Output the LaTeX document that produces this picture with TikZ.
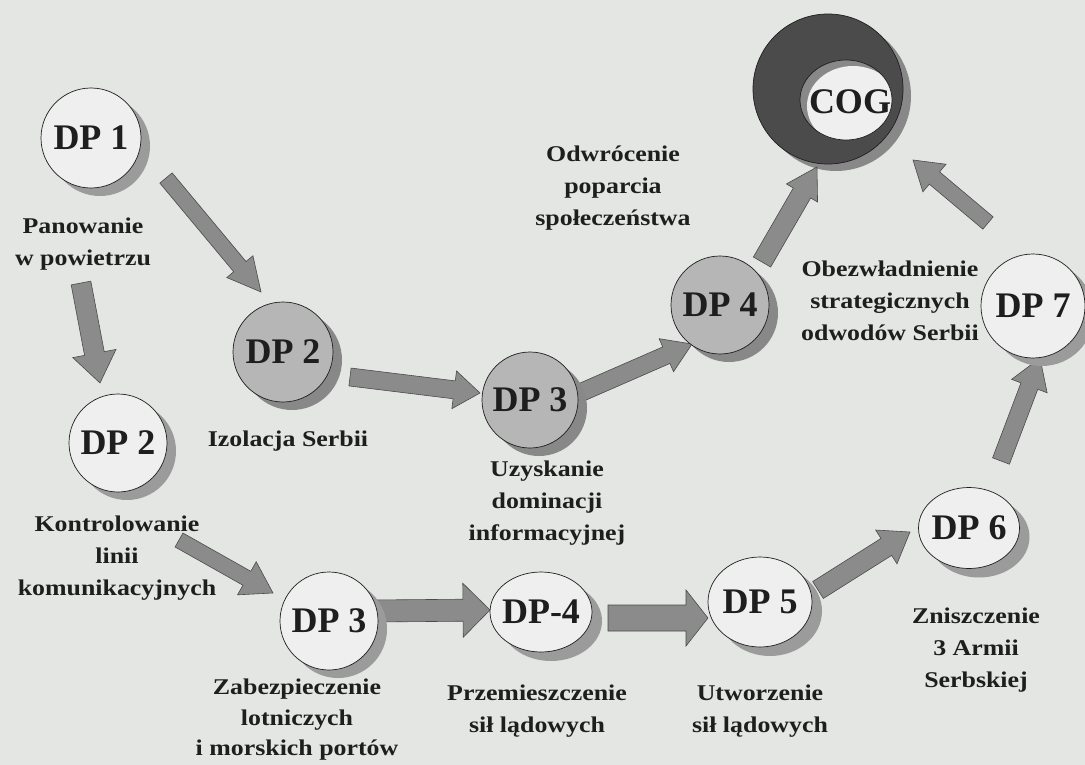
\documentclass[tikz,border=0pt]{standalone}
\usepackage{fontspec}
\setmainfont{Liberation Serif}
\newfontfamily\lblfont{Liberation Serif}[FakeStretch=1.15]
\usetikzlibrary{calc,shapes.geometric,shadows}

\definecolor{paper}{HTML}{E3E6E3}
\definecolor{diskfill}{HTML}{EEEFEE}
\definecolor{diskgray}{HTML}{B5B6B5}
\definecolor{shadowlt}{HTML}{9A9B9A}
\definecolor{shadowdk}{HTML}{878887}
\definecolor{ringdark}{HTML}{4B4B4B}
\definecolor{arrowgray}{HTML}{8A8B8A}
\definecolor{ink}{HTML}{1E1E1E}

% block arrow: tail, tip, half shaft width, half head width, head length
\newcommand{\blockarrow}[5]{%
  \coordinate (bah) at ($(#2)!#5!(#1)$);
  \filldraw[arrowbody]
    ($(#1)!#3!90:(#2)$) -- ($(bah)!#3!90:(#2)$) -- ($(bah)!#4!90:(#2)$)
    -- (#2)
    -- ($(bah)!#4!-90:(#2)$) -- ($(bah)!#3!-90:(#2)$) -- ($(#1)!#3!-90:(#2)$)
    -- cycle;
}

\tikzset{
  arrowbody/.style={fill=arrowgray, draw=ink!80, line width=0.6pt, line join=miter},
  lightdisk/.style={circle, draw=ink, line width=0.7pt, fill=diskfill, inner sep=0pt,
    minimum size=#1,
    drop shadow={shadow xshift=9pt, shadow yshift=-8pt, fill=shadowlt, opacity=1}},
  graydisk/.style={circle, draw=ink, line width=0.7pt, fill=diskgray, inner sep=0pt,
    minimum size=#1,
    drop shadow={shadow xshift=9pt, shadow yshift=-8pt, fill=shadowdk, opacity=1}},
  lightoval/.style 2 args={ellipse, draw=ink, line width=0.7pt, fill=diskfill, inner sep=0pt,
    minimum width=#1, minimum height=#2,
    drop shadow={shadow xshift=10pt, shadow yshift=-9pt, fill=shadowlt, opacity=1}},
  dptxt/.style={font=\fontsize{36}{40}\selectfont\bfseries, text=ink, inner sep=0pt},
  lbl/.style={font=\lblfont\fontsize{22.5}{32}\selectfont\bfseries, text=ink,
    inner sep=0pt, align=center, anchor=north},
}

\begin{document}
\begin{tikzpicture}[x=1pt,y=-1pt]
\useasboundingbox (0,0) rectangle (1085,765);
\fill[paper] (0,0) rectangle (1085,765);

% centre of gravity: dark ring with an offset hole
\node[circle, fill=ringdark, draw=ink, line width=0.7pt, minimum size=150, inner sep=0pt,
  drop shadow={shadow xshift=8pt, shadow yshift=-7pt, fill=shadowdk, opacity=1}]
  (cog) at (828,89) {};
\begin{scope}
  \clip (846,100) ellipse [x radius=46, y radius=40];
  \fill[shadowdk] (846,100) ellipse [x radius=46, y radius=40];
  \fill[diskfill] (853,106) ellipse [x radius=46, y radius=40];
\end{scope}
\draw[ink, line width=0.7pt] (846,100) ellipse [x radius=46, y radius=40];
\node[dptxt] (cogt) at (850,102) {COG};

% arrow end points
\coordinate (a1s) at (166,178);  \coordinate (a1e) at (261,292);
\coordinate (a2s) at (81,283);   \coordinate (a2e) at (100,383);
\coordinate (a3s) at (179,540);  \coordinate (a3e) at (273,593);
\coordinate (a4s) at (350,377);  \coordinate (a4e) at (480,393);
\coordinate (a5s) at (582,392);  \coordinate (a5e) at (692,344);
\coordinate (a6s) at (372,611);  \coordinate (a6e) at (490,610);
\coordinate (a7s) at (608,618);  \coordinate (a7e) at (708,618);
\coordinate (a8s) at (818,590);  \coordinate (a8e) at (910,532);
\coordinate (a9s) at (1001,461); \coordinate (a9e) at (1040,358);
\coordinate (a10s) at (762,262); \coordinate (a10e) at (817,167);
\coordinate (a11s) at (988,223); \coordinate (a11e) at (913,160);

\blockarrow{a1s}{a1e}{8pt}{17pt}{33pt}
\blockarrow{a2s}{a2e}{10pt}{22pt}{30pt}
\blockarrow{a3s}{a3e}{8pt}{19pt}{30pt}
\blockarrow{a4s}{a4e}{9pt}{19pt}{26pt}
\blockarrow{a5s}{a5e}{9pt}{18pt}{28pt}
\blockarrow{a6s}{a6e}{11pt}{27pt}{27pt}
\blockarrow{a7s}{a7e}{13pt}{28pt}{22pt}
\blockarrow{a8s}{a8e}{10pt}{20pt}{28pt}
\blockarrow{a9s}{a9e}{9pt}{19pt}{30pt}
\blockarrow{a10s}{a10e}{10pt}{18pt}{30pt}
\blockarrow{a11s}{a11e}{8pt}{18pt}{28pt}

% decisive points
\node[lightdisk=100] (dp1)  at (91,138)  {};
\node[lightdisk=98]  (dp2a) at (118,443) {};
\node[graydisk=100]  (dp2b) at (283,352) {};
\node[lightdisk=98]  (dp3a) at (329,621) {};
\node[graydisk=96]   (dp3b) at (530,400) {};
\node[graydisk=98]   (dp4a) at (720,305) {};
\node[lightoval={102}{80}] (dp4b) at (541,612) {};
\node[lightoval={104}{90}] (dp5)  at (760,602) {};
\node[lightoval={101}{81}] (dp6)  at (969,528) {};
\node[lightdisk=104] (dp7)  at (1033,306) {};

\node[dptxt] (dp1t)  at (dp1)  {DP 1};
\node[dptxt] (dp2at) at (dp2a) {DP 2};
\node[dptxt] (dp2bt) at (dp2b) {DP 2};
\node[dptxt] (dp3at) at (dp3a) {DP 3};
\node[dptxt] (dp3bt) at (dp3b) {DP 3};
\node[dptxt] (dp4at) at (dp4a) {DP 4};
\node[dptxt] (dp4bt) at (dp4b) {DP-4};
\node[dptxt] (dp5t)  at (dp5)  {DP 5};
\node[dptxt] (dp6t)  at (dp6)  {DP 6};
\node[dptxt] (dp7t)  at (dp7)  {DP 7};

% descriptions
\node[lbl] (l1)  at (83,218)  {Panowanie\\w powietrzu};
\node[lbl] (l2)  at (288,431) {Izolacja Serbii};
\node[lbl] (l3)  at (117,516) {Kontrolowanie\\linii\\komunikacyjnych};
\node[lbl, font=\lblfont\fontsize{22.5}{30.5}\selectfont\bfseries]
  (l4)  at (297,679) {Zabezpieczenie\\lotniczych\\i morskich portów};
\node[lbl] (l5)  at (547,461) {Uzyskanie\\dominacji\\informacyjnej};
\node[lbl] (l6)  at (537,685) {Przemieszczenie\\sił lądowych};
\node[lbl] (l7)  at (760,685) {Utworzenie\\sił lądowych};
\node[lbl] (l8)  at (976,608) {Zniszczenie\\3 Armii\\Serbskiej};
\node[lbl] (l9)  at (890,261) {Obezwładnienie\\strategicznych\\odwodów Serbii};
\node[lbl] (l10) at (613,146) {Odwrócenie\\poparcia\\społeczeństwa};
\end{tikzpicture}
\end{document}
